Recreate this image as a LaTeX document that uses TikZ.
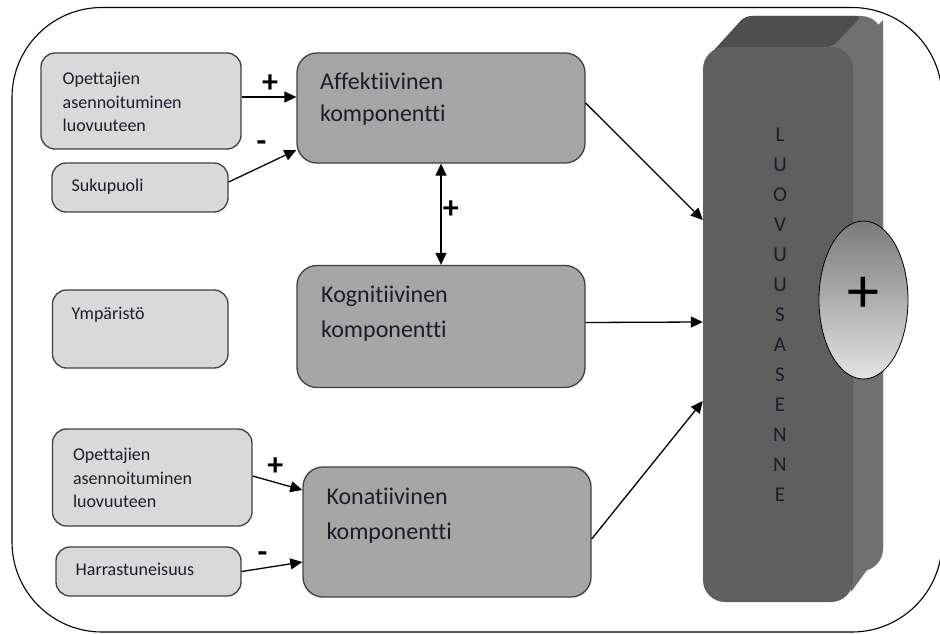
\documentclass[tikz,border=0pt]{standalone}
\usepackage{fontspec}
\setmainfont{Carlito}[Ligatures={NoCommon}]
\usetikzlibrary{arrows.meta,shapes.geometric}

\definecolor{boxlight}{HTML}{D9D9D9}
\definecolor{boxmid}{HTML}{A6A6A6}
\definecolor{boxedge}{HTML}{404040}
\definecolor{inkc}{HTML}{1C1C2A}
\definecolor{pilfront}{HTML}{5F5F5F}
\definecolor{pilside}{HTML}{707070}
\definecolor{piltop}{HTML}{4E4E4E}

\begin{document}
\begin{tikzpicture}[x=1pt,y=-1pt,
  smallbox/.style={draw=boxedge, fill=boxlight, line width=1.3pt, rounded corners=14pt, inner sep=0pt},
  bigbox/.style={draw=boxedge, fill=boxmid, line width=1.3pt, rounded corners=20pt, inner sep=0pt},
  stext/.style={font=\fontsize{18}{23.5}\selectfont, text=inkc, align=left, inner sep=0pt},
  btext/.style={font=\fontsize{24}{33}\selectfont, text=inkc, align=left, inner sep=0pt},
  arr/.style={line width=1.3pt, -{Triangle[length=12pt,width=11pt]}},
  biarr/.style={line width=1.3pt, {Triangle[length=12pt,width=11pt]}-{Triangle[length=12pt,width=11pt]}},
  sign/.style={font=\fontsize{32}{32}\selectfont\bfseries, inner sep=0pt, text=black},
]
\useasboundingbox (0,0) rectangle (940,634);

% outer frame
\begin{scope}
  \clip (0,0) rectangle (940,634);
  \draw[line width=1.1pt, rounded corners=90pt] (12,7.5) rectangle (942,632);
\end{scope}

% 3D pillar: back/side, top face, then front face
\fill[pilside, rounded corners=22pt] (733,16) rectangle (883,571);
\fill[pilside] (853,50) -- (883,20) -- (883,548) -- (851,592) -- cycle;
\fill[piltop, rounded corners=6pt] (705,60) -- (745,16) -- (862,16) -- (832,47) -- (725,47) -- cycle;
\node[fill=pilfront, rounded corners=22pt, minimum width=150pt, minimum height=555pt, inner sep=0pt] (pil) at (778,324.5) {};

\node[font=\fontsize{21}{30}\selectfont, align=center, inner sep=0pt, text=inkc, anchor=north] (col) at (780,128.3)
  {L\\U\\O\\V\\U\\U\\S\\A\\S\\E\\N\\N\\E};

\node[ellipse, draw=black, line width=0.8pt, minimum width=89pt, minimum height=158pt, inner sep=0pt,
      top color=black!52, bottom color=black!11] (oval) at (863.5,300) {};
\node[font=\fontsize{64}{64}\selectfont, inner sep=0pt] (bigplus) at (863.3,294.7) {+};

% boxes
\node[smallbox, minimum width=200pt, minimum height=96pt] (op1) at (141,101) {};
\node[smallbox, minimum width=176pt, minimum height=49pt] (suk) at (140,187.5) {};
\node[smallbox, minimum width=175.5pt, minimum height=78pt] (ymp) at (140.25,329) {};
\node[smallbox, minimum width=199.5pt, minimum height=97pt] (op2) at (152.25,477.5) {};
\node[smallbox, minimum width=185pt, minimum height=49pt] (har) at (148.5,571.5) {};
\node[bigbox, minimum width=288pt, minimum height=110pt] (aff) at (441,108) {};
\node[bigbox, minimum width=288pt, minimum height=122pt] (kog) at (441,326.5) {};
\node[bigbox, minimum width=288pt, minimum height=130pt] (kon) at (447,532) {};

% box texts
\node[stext, anchor=north west] (op1t) at (62.5,72.4) {Opettajien\\asennoituminen\\luovuuteen};
\node[stext, anchor=base west] (sukt) at (71.5,191) {Sukupuoli};
\node[stext, anchor=base west] (ympt) at (71.5,319) {Ympäristö};
\node[stext, anchor=north west] (op2t) at (72.8,448) {Opettajien\\asennoituminen\\luovuuteen};
\node[stext, anchor=base west] (hart) at (75.5,575.3) {Harrastuneisuus};
\node[btext, anchor=north west] (afft) at (320,72.2) {Affektiivinen\\[-0.6pt]komponentti};
\node[btext, anchor=north west] (kogt) at (321,286.2) {Kognitiivinen\\[1.4pt]komponentti};
\node[btext, anchor=north west] (kont) at (326.3,488.2) {Konatiivinen\\[2pt]komponentti};

% connectors
\draw[arr] ([yshift=4pt]op1.east) -- ([yshift=11pt]aff.west);
\draw[arr] ([yshift=5.5pt]suk.east) -- ([yshift=-42pt]aff.west);
\draw[biarr] (aff.south) -- (kog.north);
\draw[arr] ([yshift=5pt]aff.east) -- ([yshift=104.5pt]pil.west);
\draw[arr] ([yshift=4pt]kog.east) -- ([yshift=2.5pt]pil.west);
\draw[arr] ([yshift=-7pt]kon.east) -- ([yshift=-76.5pt]pil.west);
\draw[arr] ([yshift=1.5pt]op2.east) -- ([yshift=42pt]kon.west);
\draw[arr] (har.east) -- ([yshift=-30pt]kon.west);

% signs on the connectors
\node[sign] (s1) at (270,84) {+};
\node[sign] (s2) at (261.5,146) {-};
\node[sign] (s3) at (450.8,209.5) {+};
\node[sign] (s4) at (275.3,466.7) {+};
\node[sign] (s5) at (262.5,556.7) {-};
\end{tikzpicture}
\end{document}
